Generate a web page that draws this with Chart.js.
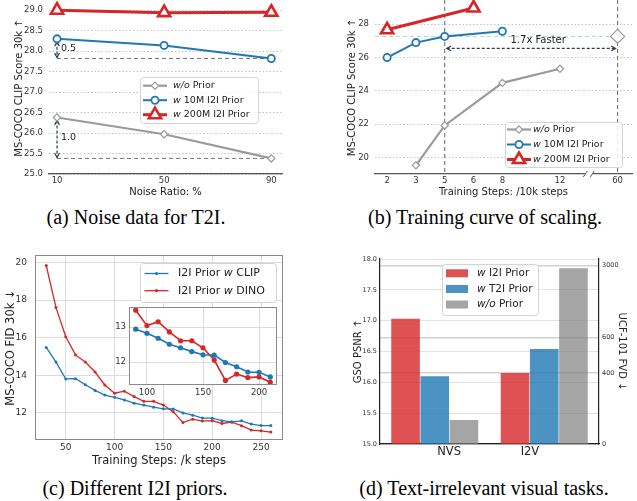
<!DOCTYPE html>
<html>
<head>
<meta charset="utf-8">
<script src="https://cdn.jsdelivr.net/npm/chart.js@4.4.1/dist/chart.umd.min.js"></script>
<style>
  body { margin:0; background:#fff; }
  #fig { position:relative; width:637px; height:501px; overflow:hidden; }
  #fig canvas { position:absolute; }
  .cap { position:absolute; width:360px; text-align:center; font-family:"Liberation Serif","Times New Roman",serif; font-size:20px; line-height:23px; color:#000; white-space:nowrap; }
</style>
</head>
<body>
<div id="fig">
  <canvas id="ca" width="300" height="200" style="left:0;top:0"></canvas>
  <canvas id="cb" width="317" height="200" style="left:320px;top:0"></canvas>
  <canvas id="cc" width="300" height="220" style="left:0;top:250px"></canvas>
  <canvas id="ci" width="180" height="105" style="left:105px;top:300px"></canvas>
  <canvas id="cd" width="317" height="220" style="left:320px;top:250px"></canvas>
  <div class="cap" style="left:-44px;top:206px">(a) Noise data for T2I.</div>
  <div class="cap" style="left:305px;top:206px">(b) Training curve of scaling.</div>
  <div class="cap" style="left:-45px;top:477px">(c) Different I2I priors.</div>
  <div class="cap" style="left:304px;top:477px">(d) Text-irrelevant visual tasks.</div>
</div>
<script>
// ---------- Data
// (a) noise ratio sweep
const noiseRatio = [10, 50, 90];
const aNoPrior = [26.38, 25.97, 25.38];
const a10M = [28.30, 28.14, 27.82];
const a200M = [29.00, 28.94, 28.95];
const aYTicks = [25.0, 25.5, 26.0, 26.5, 27.0, 27.5, 28.0, 28.5, 29.0];

// (b) training curve, steps in 10k
const bStepTicks = [2, 3, 5, 6, 8, 12, 60];
const bNoPriorSteps = [3, 5, 8, 12];
const bNoPrior = [19.52, 21.92, 24.48, 25.33];
const bNoPriorLongSteps = [60];
const bNoPriorLong = [27.27];
const b10MSteps = [2, 3, 5, 8];
const b10M = [26.00, 26.90, 27.27, 27.58];
const b200MSteps = [2, 6];
const b200M = [27.67, 28.98];
const bYTicks = [20, 22, 24, 26, 28];

// (c) FID vs training steps (k)
const cSteps = [30, 40, 50, 60, 70, 80, 90, 100, 110, 120, 130, 140, 150, 160, 170, 180, 190, 200, 210, 220, 230, 240, 250, 260];
const cClip = [15.48, 14.70, 13.80, 13.81, 13.49, 13.19, 12.94, 12.82, 12.68, 12.51, 12.41, 12.30, 12.21, 12.20, 11.99, 11.87, 11.72, 11.71, 11.58, 11.52, 11.57, 11.40, 11.32, 11.32];
const cDino = [19.84, 17.60, 16.05, 15.08, 14.70, 14.17, 13.48, 13.04, 13.15, 12.86, 12.61, 12.61, 12.41, 12.06, 11.48, 11.66, 11.56, 11.58, 11.43, 11.50, 11.31, 11.08, 11.04, 10.97];
const cXTicks = [50, 100, 150, 200, 250];
const cYTicks = [12, 14, 16, 18, 20];
const insetRange = [90, 210];
const insetXTicks = [100, 150, 200];
const insetYTicks = [12, 13];

// (d) text-irrelevant tasks
const dTasks = ['NVS', 'I2V'];
const dI2I = [17.03, 16.15];
const dT2I = [16.10, 16.54];
const dNoPrior = [15.39, 17.85];
const dYTicks = [15.0, 15.5, 16.0, 16.5, 17.0, 17.5, 18.0];
const fvdTickLabels = ['0', '400', '600', '3000'];
const fvdTickAt = [15.0, 16.15, 16.73, 17.89];

// ---------- Helpers
Chart.defaults.font.family = '"DejaVu Sans", sans-serif';
Chart.defaults.font.size = 8.5;
Chart.defaults.color = '#333';
Chart.defaults.animation = false;
Chart.defaults.responsive = false;
Chart.defaults.layout.autoPadding = false;
Chart.defaults.plugins.legend.display = false;
Chart.defaults.plugins.tooltip.enabled = false;
const H = Chart.helpers;
const C = { blue:'#1f77b4', red:'#d62728', gray:'#9a9a9a', navy:'#2b3a55', text:'#222' };

const xy = (xs, ys, f) => xs.map((x, i) => ({ x: f ? f(x) : x, y: ys[i] }));
const fixTicks = list => s => { s.ticks = list.map(value => ({ value })); };
// fixed axis box size, and no extra label overflow padding (layout.padding does that job)
const fitTo = (prop, v) => s => { s[prop] = v; s.paddingTop = s.paddingBottom = s.paddingLeft = s.paddingRight = 0; };
const el = id => document.getElementById(id);

function dashLine(ctx, x1, y1, x2, y2, color, dash, w){
  ctx.save(); ctx.strokeStyle = color; ctx.lineWidth = w || 1; ctx.setLineDash(dash || []);
  ctx.beginPath(); ctx.moveTo(x1, y1); ctx.lineTo(x2, y2); ctx.stroke(); ctx.restore();
}
function head(ctx, x, y, ang, color){
  const s = 5;
  ctx.save(); ctx.strokeStyle = color; ctx.lineWidth = 1.2; ctx.beginPath();
  ctx.moveTo(x - s*Math.cos(ang - 0.5), y - s*Math.sin(ang - 0.5));
  ctx.lineTo(x, y);
  ctx.lineTo(x - s*Math.cos(ang + 0.5), y - s*Math.sin(ang + 0.5));
  ctx.stroke(); ctx.restore();
}
function dblArrow(ctx, x1, y1, x2, y2, color){
  dashLine(ctx, x1, y1, x2, y2, color, [3, 2], 1.2);
  const a = Math.atan2(y2 - y1, x2 - x1);
  head(ctx, x2, y2, a, color); head(ctx, x1, y1, a + Math.PI, color);
}
function label(ctx, txt, x, y, size, align){
  ctx.save(); ctx.font = size + 'px "DejaVu Sans"'; ctx.fillStyle = C.text;
  ctx.textAlign = align || 'left'; ctx.textBaseline = 'middle'; ctx.fillText(txt, x, y); ctx.restore();
}

// legend icons
const lineIcon = (color, lw, style, r, bw, fill) => (ctx, x, y) => {
  ctx.save(); ctx.strokeStyle = color; ctx.lineWidth = lw; ctx.setLineDash([]);
  ctx.beginPath(); ctx.moveTo(x - 12, y); ctx.lineTo(x + 12, y); ctx.stroke();
  ctx.fillStyle = fill || '#fff'; ctx.lineWidth = bw;
  H.drawPoint(ctx, { pointStyle: style, radius: r, rotation: 0, borderWidth: bw }, x, y);
  ctx.restore();
};
const patchIcon = color => (ctx, x, y) => { ctx.fillStyle = color; ctx.fillRect(x - 11, y - 4, 22, 8); };

function drawLegend(ctx, box, rows, size){
  ctx.save();
  ctx.fillStyle = 'rgba(255,255,255,0.85)'; ctx.strokeStyle = '#d4d4d4'; ctx.lineWidth = 1;
  ctx.beginPath(); ctx.roundRect(box[0] + 0.5, box[1] + 0.5, box[2], box[3], 3); ctx.fill(); ctx.stroke();
  rows.forEach(r => {
    r.icon(ctx, r.ix, r.y);
    ctx.fillStyle = C.text; ctx.textBaseline = 'middle'; ctx.textAlign = 'left';
    let x = r.tx;
    r.parts.forEach(([t, it]) => {
      ctx.font = (it ? 'italic ' : '') + size + 'px "DejaVu Sans"';
      ctx.fillText(t, x, r.y); x += ctx.measureText(t).width;
    });
  });
  ctx.restore();
}

function noPriorDs(data, r){ return { data, borderColor:C.gray, borderWidth:2.2, pointStyle:'rectRot', pointRadius:r, pointBackgroundColor:'#fff', pointBorderColor:C.gray, pointBorderWidth:1.2, clip:false }; }
function m10Ds(data){ return { data, borderColor:C.blue, borderWidth:2, pointStyle:'circle', pointRadius:3.6, pointBackgroundColor:'#fff', pointBorderColor:C.blue, pointBorderWidth:1.8, clip:false }; }
function m200Ds(data){ return { data, borderColor:C.red, borderWidth:3, pointStyle:'triangle', pointRadius:7, pointBackgroundColor:'#fff', pointBorderColor:C.red, pointBorderWidth:2.6, clip:false }; }

const priorRows = (ix, tx, ys) => [
  { icon: lineIcon(C.gray, 2.2, 'rectRot', 3.6, 1.2), ix, tx, y: ys[0], parts: [['w/o', true], [' Prior']] },
  { icon: lineIcon(C.blue, 2, 'circle', 3.6, 1.8), ix, tx, y: ys[1], parts: [['w', true], [' 10M I2I Prior']] },
  { icon: lineIcon(C.red, 3, 'triangle', 7, 2.6), ix, tx, y: ys[2], parts: [['w', true], [' 200M I2I Prior']] }
];

const dottedY = (ticks, extra) => Object.assign({
  afterBuildTicks: fixTicks(ticks),
  grid: { color:'#c4c4c4', lineWidth:1, drawTicks:false },
  border: { display:false, dash:[1.5, 2] },
  ticks: { padding:6, color:'#333', callback: v => v.toFixed(1) }
}, extra);

// ---------- (a) Noise data for T2I
new Chart(el('ca'), {
  type: 'line',
  data: { datasets: [ noPriorDs(xy(noiseRatio, aNoPrior), 3.6), m10Ds(xy(noiseRatio, a10M)), m200Ds(xy(noiseRatio, a200M)) ] },
  options: {
    layout: { padding: { left:6, right:18, top:2, bottom:0 } },
    scales: {
      x: { type:'linear', min:7, max:94, afterBuildTicks: fixTicks(noiseRatio),
           grid:{ display:false, drawTicks:false }, border:{ color:'#555', width:1.3 },
           ticks:{ padding:2, color:'#333' },
           title:{ display:true, text:'Noise Ratio: %', font:{ size:10 }, color:C.text, padding:{ top:0, bottom:2 } },
           afterFit: fitTo('height', 26) },
      y: dottedY(aYTicks, { min:25, max:29.2,
           title:{ display:true, text:'MS-COCO CLIP Score 30k ↑', font:{ size:10 }, color:C.text, padding:{ top:7, bottom:0 } },
           afterFit: fitTo('width', 43) })
    }
  },
  plugins: [{
    id: 'aNotes',
    beforeDatasetsDraw(ch){
      const { ctx, scales:{ x, y } } = ch;
      const x0 = x.getPixelForValue(noiseRatio[0]), x1 = x.getPixelForValue(noiseRatio[2]);
      [[a10M[0], a10M[2]], [aNoPrior[0], aNoPrior[2]]].forEach(([hi, lo]) => {
        dashLine(ctx, x0, y.getPixelForValue(lo), x1, y.getPixelForValue(lo), '#777', [4, 3], 1);
        dblArrow(ctx, x0, y.getPixelForValue(hi) + 3, x0, y.getPixelForValue(lo) - 1, C.navy);
        label(ctx, (hi - lo).toFixed(1), x0 + 4, y.getPixelForValue((hi + lo) / 2), 9.5);
      });
    },
    afterDraw(ch){ drawLegend(ch.ctx, [140, 77, 118, 46], priorRows(155, 173, [85.7, 100.2, 114.7]), 9.5); }
  }]
});

// ---------- (b) Training curve of scaling (broken x axis)
const bAxisPos = s => ({ 2:0, 3:1, 5:2, 6:3, 8:4, 12:6, 60:8 })[s];
new Chart(el('cb'), {
  type: 'line',
  data: { datasets: [
    noPriorDs(xy(bNoPriorSteps, bNoPrior, bAxisPos), 3.6),
    m10Ds(xy(b10MSteps, b10M, bAxisPos)),
    m200Ds(xy(b200MSteps, b200M, bAxisPos)),
    Object.assign(noPriorDs(xy(bNoPriorLongSteps, bNoPriorLong, bAxisPos), 7), { showLine:false })
  ] },
  options: {
    layout: { padding: { left:20, right:5, top:1, bottom:0 } },
    scales: {
      x: { type:'linear', min:-0.42, max:8.5,
           afterBuildTicks: s => { s.ticks = bStepTicks.map(t => ({ value: bAxisPos(t) })); },
           grid:{ display:false, drawTicks:false }, border:{ color:'#555', width:1.3 },
           ticks:{ padding:2, color:'#333', callback: (v, i) => bStepTicks[i] },
           title:{ display:true, text:'Training Steps: /10k steps', font:{ size:10 }, color:C.text, padding:{ top:0, bottom:2 } },
           afterFit: fitTo('height', 26) },
      y: dottedY(bYTicks, { min:19, max:29.4,
           ticks:{ padding:6, color:'#333' },
           title:{ display:true, text:'MS-COCO CLIP Score 30k ↑', font:{ size:10 }, color:C.text, padding:{ top:6, bottom:0 } },
           afterFit: fitTo('width', 35) })
    }
  },
  plugins: [{
    id: 'bNotes',
    beforeDatasetsDraw(ch){
      const { ctx, chartArea:a, scales:{ x, y } } = ch;
      const x5 = x.getPixelForValue(bAxisPos(5)), x60 = x.getPixelForValue(bAxisPos(60));
      dashLine(ctx, x5, 0, x5, a.bottom, '#666', [4, 3], 1);
      dashLine(ctx, x60, 0, x60, a.bottom, '#666', [4, 3], 1);
      const yl = y.getPixelForValue(bNoPriorLong[0]);
      dashLine(ctx, a.left, yl, x60, yl, 'rgba(150,195,210,0.75)', [4, 3], 1);
      const ya = y.getPixelForValue(26.55);
      dblArrow(ctx, x5 + 2, ya, x60 - 2, ya, C.navy);
      label(ctx, '1.7x Faster', (x5 + x60) / 2 + 7, y.getPixelForValue(27.05), 10, 'center');
    },
    afterDraw(ch){
      const { ctx, chartArea:a, scales:{ x } } = ch;
      const xb = x.getPixelForValue(7), yb = a.bottom;
      ctx.save(); ctx.fillStyle = '#fff'; ctx.fillRect(xb - 4, yb - 2, 8, 4);
      ctx.strokeStyle = '#555'; ctx.lineWidth = 1;
      [-3.5, 3.5].forEach(d => { ctx.beginPath(); ctx.moveTo(xb + d - 2, yb + 3); ctx.lineTo(xb + d + 2, yb - 3); ctx.stroke(); });
      ctx.restore();
      drawLegend(ctx, [185, 122, 117, 45], priorRows(199, 213, [129.5, 144.5, 159.5]), 9.5);
    }
  }]
});

// ---------- (c) Different I2I priors
const frame = color => ({ id:'frame', afterDraw(ch){
  const a = ch.chartArea, c = ch.ctx;
  c.save(); c.strokeStyle = color; c.lineWidth = 1;
  c.strokeRect(Math.round(a.left) + 0.5, Math.round(a.top) + 0.5, Math.round(a.right - a.left) - 1, Math.round(a.bottom - a.top) - 1);
  c.restore();
} });
const fidDs = (xs, ys, color, r, w) => ({ data: xy(xs, ys), borderColor: color, backgroundColor: color, borderWidth: w, pointRadius: r, pointBorderWidth: 0 });
const solidGrid = { color:'#dcdcdc', lineWidth:1, drawTicks:false };

new Chart(el('cc'), {
  type: 'line',
  data: { datasets: [ fidDs(cSteps, cClip, C.blue, 1.5, 1.3), fidDs(cSteps, cDino, C.red, 1.5, 1.3) ] },
  options: {
    layout: { padding: { left:0, right:17, top:5, bottom:0 } },
    scales: {
      x: { type:'linear', min:18.5, max:272.5, afterBuildTicks: fixTicks(cXTicks),
           grid: solidGrid, border:{ display:false },
           ticks:{ font:{ size:9 }, padding:2, color:'#333' },
           title:{ display:true, text:'Training Steps: /k steps', font:{ size:11.5 }, color:C.text, padding:{ top:0, bottom:2 } },
           afterFit: fitTo('height', 30) },
      y: { min:10.55, max:20.4, afterBuildTicks: fixTicks(cYTicks),
           grid: solidGrid, border:{ display:false },
           ticks:{ font:{ size:9 }, padding:8, color:'#333' },
           title:{ display:true, text:'MS-COCO FID 30k ↓', font:{ size:11.5 }, color:C.text, padding:{ top:4, bottom:0 } },
           afterFit: fitTo('width', 35) }
    }
  },
  plugins: [ frame('#8a8a8a'), { id:'cLegend', afterDraw(ch){
    drawLegend(ch.ctx, [140, 13, 136, 39], [
      { icon: lineIcon(C.blue, 1.3, 'circle', 1.6, 0, C.blue), ix:156.5, tx:178, y:23.5, parts:[['I2I Prior '], ['w', true], [' CLIP']] },
      { icon: lineIcon(C.red, 1.3, 'circle', 1.6, 0, C.red), ix:156.5, tx:178, y:40.7, parts:[['I2I Prior '], ['w', true], [' DINO']] }
    ], 11);
  } } ]
});

// inset zoom of (c)
const inWin = s => s >= insetRange[0] && s <= insetRange[1];
const inSteps = cSteps.filter(inWin);
const inClip = cClip.filter((v, i) => inWin(cSteps[i]));
const inDino = cDino.filter((v, i) => inWin(cSteps[i]));
new Chart(el('ci'), {
  type: 'line',
  data: { datasets: [ fidDs(inSteps, inClip, C.blue, 2.6, 1.6), fidDs(inSteps, inDino, C.red, 2.6, 1.6) ] },
  options: {
    layout: { padding: { left:0, right:8, top:7, bottom:0 } },
    scales: {
      x: { type:'linear', min:84, max:216, afterBuildTicks: fixTicks(insetXTicks),
           grid: solidGrid, border:{ display:false },
           ticks:{ font:{ size:8.5 }, padding:3, color:'#333' },
           afterFit: fitTo('height', 20) },
      y: { min:11.35, max:13.57, afterBuildTicks: fixTicks(insetYTicks),
           grid: solidGrid, border:{ display:false },
           ticks:{ font:{ size:8.5 }, padding:3, color:'#333' },
           afterFit: fitTo('width', 24) }
    }
  },
  plugins: [ { id:'bg', beforeDraw(ch){ const a = ch.chartArea; ch.ctx.fillStyle = '#fff'; ch.ctx.fillRect(a.left, a.top, a.right - a.left, a.bottom - a.top); } }, frame('#8a8a8a') ]
});

// ---------- (d) Text-irrelevant visual tasks
const barColors = ['rgba(214,39,40,0.8)', 'rgba(31,119,180,0.8)', 'rgba(127,127,127,0.7)'];
new Chart(el('cd'), {
  type: 'bar',
  data: { labels: dTasks, datasets: [dI2I, dT2I, dNoPrior].map((d, i) => ({ data: d, backgroundColor: barColors[i], borderWidth: 0 })) },
  options: {
    layout: { padding: { left:28, right:5, top:9, bottom:0 } },
    datasets: { bar: { categoryPercentage:0.8, barPercentage:0.98 } },
    scales: {
      x: { grid:{ display:false, drawTicks:false }, border:{ color:'#222', width:1.2 }, ticks:{ display:false },
           afterFit: fitTo('height', 26) },
      y: { min:15, max:18, afterBuildTicks: fixTicks(dYTicks),
           grid:{ color:'#e2e2e2', lineWidth:1, drawTicks:false }, border:{ color:'#222', width:1.2 },
           ticks:{ font:{ size:6.5 }, padding:3, color:'#333', callback: v => v.toFixed(1) },
           title:{ display:true, text:'GSO PSNR ↑', font:{ size:10 }, color:C.text, padding:{ top:4, bottom:0 } },
           afterFit: fitTo('width', 32) },
      y1: { position:'right', min:15, max:18, afterBuildTicks: fixTicks(fvdTickAt),
           grid:{ color:'#d2d2d2', lineWidth:1.5, drawTicks:false }, border:{ color:'#222', width:1.2 },
           ticks:{ font:{ size:6.5 }, padding:3, color:'#333', callback: (v, i) => fvdTickLabels[i] },
           title:{ display:true, text:'UCF-101 FVD ↓', font:{ size:10 }, color:C.text, padding:{ top:4, bottom:0 } },
           afterFit: fitTo('width', 33) }
    }
  },
  plugins: [{
    id: 'dNotes',
    afterDraw(ch){
      const ctx = ch.ctx, m = ch.getDatasetMeta(1).data, yb = ch.chartArea.bottom + 8;
      label(ctx, dTasks[0], m[0].x + m[0].width / 2, yb, 11.5, 'center');
      label(ctx, dTasks[1], m[1].x - m[1].width / 2, yb, 11.5, 'center');
      drawLegend(ctx, [122, 14, 96, 51], [
        { icon: patchIcon(barColors[0]), ix:137, tx:157, y:23.3, parts:[['w', true], [' I2I Prior']] },
        { icon: patchIcon(barColors[1]), ix:137, tx:157, y:39, parts:[['w', true], [' T2I Prior']] },
        { icon: patchIcon(barColors[2]), ix:137, tx:157, y:54.5, parts:[['w/o', true], [' Prior']] }
      ], 10.5);
    }
  }]
});
</script>
</body>
</html>
